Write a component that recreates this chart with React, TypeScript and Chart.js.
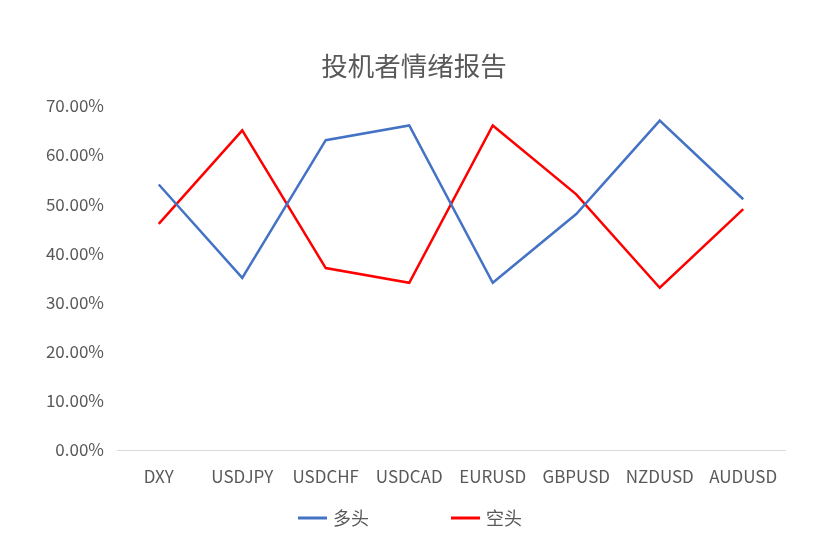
import React, { useEffect, useRef } from "react";
import { Chart, registerables } from "chart.js";

Chart.register(...registerables);

const title = "投机者情绪报告";
const categories = ["DXY", "USDJPY", "USDCHF", "USDCAD", "EURUSD", "GBPUSD", "NZDUSD", "AUDUSD"];
const longLabel = "多头";
const shortLabel = "空头";
const longValues = [0.54, 0.35, 0.63, 0.66, 0.34, 0.48, 0.67, 0.51];
const shortValues = [0.46, 0.65, 0.37, 0.34, 0.66, 0.52, 0.33, 0.49];
const longColor = "#4472C4";
const shortColor = "#FF0000";
const textColor = "#595959";
const fontFamily = "'Noto Sans CJK SC', 'Noto Sans', sans-serif";

const legendPlugin = {
  id: "bottomLegend",
  afterDraw(chart: any) {
    const ctx = chart.ctx;
    const ds = chart.data.datasets;
    const lineLen = 29;
    const gapText = 6;
    const gapItem = 82;
    ctx.save();
    ctx.font = `18px ${fontFamily}`;
    const widths = ds.map((d: any) => lineLen + gapText + ctx.measureText(d.label).width);
    const total = widths.reduce((a: number, b: number) => a + b, 0) + gapItem * (ds.length - 1);
    let x = chart.width / 2 - total / 2 - 4;
    const y = 518;
    ds.forEach((d: any, i: number) => {
      ctx.strokeStyle = d.borderColor;
      ctx.lineWidth = 3;
      ctx.beginPath();
      ctx.moveTo(x, y);
      ctx.lineTo(x + lineLen, y);
      ctx.stroke();
      ctx.fillStyle = textColor;
      ctx.textBaseline = "middle";
      ctx.textAlign = "left";
      ctx.fillText(d.label, x + lineLen + gapText, y);
      x += widths[i] + gapItem;
    });
    ctx.restore();
  },
};

export default function App() {
  const ref = useRef<HTMLCanvasElement | null>(null);
  useEffect(() => {
    if (!ref.current) return;
    const chart = new Chart(ref.current, {
      type: "line",
      data: {
        labels: categories,
        datasets: [
          {
            label: longLabel,
            data: longValues,
            borderColor: longColor,
            backgroundColor: longColor,
            borderWidth: 2.5,
            pointRadius: 0,
            tension: 0,
          },
          {
            label: shortLabel,
            data: shortValues,
            borderColor: shortColor,
            backgroundColor: shortColor,
            borderWidth: 2.5,
            pointRadius: 0,
            tension: 0,
          },
        ],
      },
      options: {
        animation: false,
        responsive: false,
        layout: { padding: { left: 43, right: 43, top: 0, bottom: 0 } },
        plugins: {
          legend: { display: false },
          tooltip: { enabled: false },
          title: {
            display: true,
            text: title,
            color: textColor,
            font: { family: fontFamily, size: 26.5, weight: "normal" },
            padding: { top: 50, bottom: 24 },
          },
        },
        scales: {
          x: {
            offset: true,
            grid: { display: false, drawTicks: false },
            border: { display: true, color: "#D9D9D9", width: 1 },
            ticks: {
              color: textColor,
              font: { family: fontFamily, size: 17 },
              padding: 16,
              maxRotation: 0,
              autoSkip: false,
            },
            afterFit: (s: any) => {
              s.height = 90;
            },
          },
          y: {
            min: 0,
            max: 0.7,
            grid: { display: false, drawTicks: false },
            border: { display: false },
            ticks: {
              stepSize: 0.1,
              color: textColor,
              font: { family: fontFamily, size: 17 },
              padding: 13,
              callback: (v: any) => (Number(v) * 100).toFixed(2) + "%",
            },
            afterFit: (s: any) => {
              s.width = 74;
            },
          },
        },
      },
      plugins: [legendPlugin],
    });
    return () => chart.destroy();
  }, []);
  return (
    <div style={{ position: "fixed", left: 0, top: 0, width: 828, height: 540, background: "#fff" }}>
      <canvas ref={ref} width={828} height={540} style={{ width: 828, height: 540 }} />
    </div>
  );
}
